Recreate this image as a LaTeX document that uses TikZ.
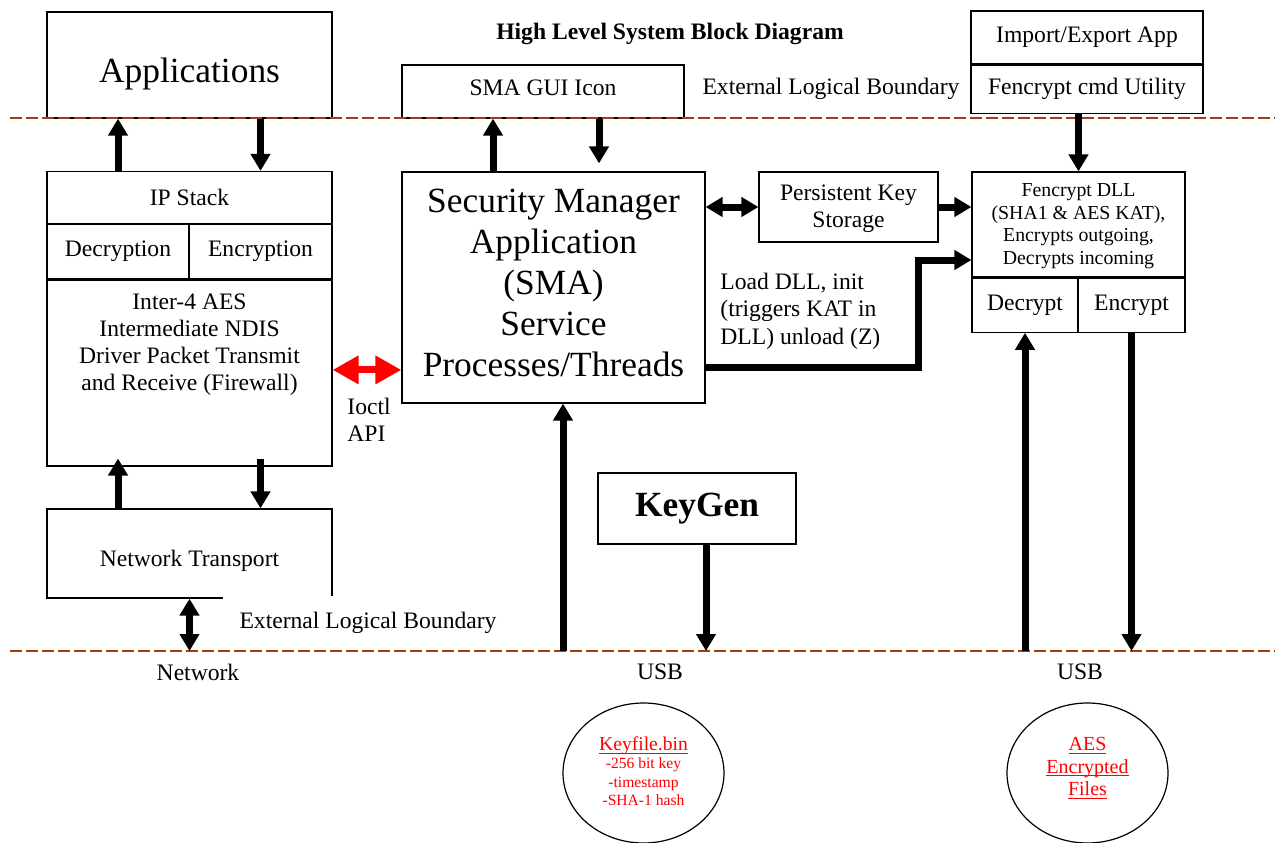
\documentclass[tikz,border=0pt]{standalone}
\usepackage{fontspec}
\setmainfont{Liberation Serif}
\usetikzlibrary{arrows.meta,shapes.geometric}
\definecolor{boundary}{RGB}{160,64,16}
\newcommand{\undertext}[1]{\setbox0\hbox{#1}\rlap{\rule[-1.6pt]{\wd0}{0.45pt}}\box0}

\begin{document}
\begin{tikzpicture}[x=0.5pt,y=-0.5pt,
        box/.style={draw, line width=0.6pt, inner sep=0pt, align=center, font=\fontsize{11.8}{13.6}\selectfont},
        txt/.style={inner sep=0pt, align=center, font=\fontsize{11.8}{13.6}\selectfont},
        big/.style={font=\fontsize{17.7}{20.5}\selectfont},
        flow/.style={line width=3.5pt, -{Triangle[width=9.5pt,length=8.5pt]}},
        twoway/.style={line width=3.5pt, {Triangle[width=9.5pt,length=8.5pt]}-{Triangle[width=9.5pt,length=8.5pt]}},
        redway/.style={red, line width=3.5pt, {Triangle[width=13.5pt,length=13pt]}-{Triangle[width=13.5pt,length=13pt]}},
        boundary line/.style={boundary, line width=1.1pt, dash pattern=on 6pt off 2pt},
        store/.style={draw, ellipse, line width=0.6pt, inner sep=0pt, minimum width=80.5pt, minimum height=70pt, align=center, text=red}]
    \useasboundingbox (0,0) rectangle (1275,842);

    \node[txt, font=\bfseries\fontsize{11.8}{13.6}\selectfont] (Title) at (670,34) {High Level System Block Diagram};

    \node[box, big, minimum width=142.5pt, minimum height=53pt, text height=21pt] (Applications) at (189.5,65) {Applications};
    \node[box, minimum width=141pt, minimum height=26.5pt, text depth=4pt] (SMA GUI) at (543,91.5) {SMA GUI Icon};
    \node[txt, fill=white] (Top Boundary) at (831,89) {External Logical Boundary};
    \node[box, minimum width=116pt, minimum height=26.5pt] (Import Export) at (1087,37.5) {Import/Export App};
    \node[box, minimum width=116pt, minimum height=24pt, anchor=north] (Fencrypt Cmd) at (Import Export.south) {Fencrypt cmd Utility};

    \node[box, minimum width=142.5pt, minimum height=26pt] (IP Stack) at (189.5,197.5) {IP Stack};
    \node[box, minimum width=71pt, minimum height=27pt, anchor=north west] (Decryption) at (IP Stack.south west) {Decryption};
    \node[box, minimum width=71.5pt, minimum height=27pt, anchor=north east] (Encryption) at (IP Stack.south east) {Encryption};
    \node[box, minimum width=142.5pt, minimum height=93pt, anchor=north west] (Inter4) at (Decryption.south west) {};
    \node[txt, font=\fontsize{11.8}{13.5}\selectfont] (Inter4 Text) at (189.5,344.5) {Inter-4 AES\\Intermediate NDIS\\Driver Packet Transmit\\and Receive (Firewall)};
    \node[box, minimum width=142.5pt, minimum height=44.5pt, text height=16pt] (Network Transport) at (189.5,553.5) {Network Transport};

    \node[box, big, minimum width=151.5pt, minimum height=115.5pt] (SMA) at (553.5,287.5) {};
    \node[txt, big] (SMA Text) at (553.5,282.5) {Security Manager\\Application\\(SMA)\\Service\\Processes/Threads};
    \node[box, minimum width=89.5pt, minimum height=35pt] (Persistent) at (848.5,207) {};
    \node[txt] (Persistent Text) at (848.5,209) {Persistent Key\\Storage};
    \node[box, minimum width=106.5pt, minimum height=52.5pt] (Fencrypt DLL) at (1078.5,224.5) {};
    \node[txt, font=\fontsize{9.9}{11.25}\selectfont] (Fencrypt DLL Text) at (1078.5,226) {Fencrypt DLL\\(SHA1 \& AES KAT),\\Encrypts outgoing,\\Decrypts incoming};
    \node[box, minimum width=53pt, minimum height=27pt, anchor=north west] (Decrypt) at (Fencrypt DLL.south west) {Decrypt};
    \node[box, minimum width=53.5pt, minimum height=27pt, anchor=north east] (Encrypt) at (Fencrypt DLL.south east) {Encrypt};
    \node[txt, align=left, anchor=west, font=\fontsize{11.8}{13.75}\selectfont] (Load Text) at (720,311) {Load DLL, init\\(triggers KAT in\\DLL) unload (Z)};
    \node[txt, align=left, anchor=west] (Ioctl) at (347,419.5) {Ioctl\\API};

    \node[box, minimum width=99pt, minimum height=35.5pt, font=\bfseries\fontsize{17.7}{20.5}\selectfont] (KeyGen) at (697,508.5) {KeyGen};

    \coordinate (Top Boundary West) at (10,118);
    \coordinate (Top Boundary East) at (1275,118);
    \coordinate (Low Boundary West) at (10,651);
    \coordinate (Low Boundary East) at (1275,651);
    \draw[boundary line] (Top Boundary West) -- (Top Boundary East);
    \draw[boundary line] (Low Boundary West) -- (Low Boundary East);

    \node[txt, fill=white, minimum width=145pt, minimum height=27pt] (Low Boundary) at (368,622.5) {External Logical Boundary};
    \node[txt] (Network) at (198,672) {Network};
    \node[txt] (USB Key) at (660,672) {USB};
    \node[txt] (USB Files) at (1080,672) {USB};

    \node[store] (Keyfile) at (643.5,773) {};
    \node[txt, text=red, font=\fontsize{7.8}{9.2}\selectfont] (Keyfile Text) at (643.5,771) {{\fontsize{9.8}{10.5}\selectfont\undertext{Keyfile.bin}}\\-256 bit key\\-timestamp\\-SHA-1 hash};
    \node[store] (AES Files) at (1087.5,773) {};
    \node[txt, text=red, font=\fontsize{10}{11.25}\selectfont] (AES Files Text) at (1087.5,768) {\undertext{AES}\\\undertext{Encrypted}\\\undertext{Files}};

    \draw[flow] (IP Stack.north -| Decryption) -- (Applications.south -| Decryption);
    \draw[flow] (Applications.south -| Encryption) -- (IP Stack.north -| Encryption);
    \draw[flow] (Network Transport.north -| Decryption) -- ([yshift=4pt]Inter4.south -| Decryption);
    \draw[flow] ([yshift=4pt]Inter4.south -| Encryption) -- (Network Transport.north -| Encryption);
    \draw[twoway] (Network Transport.south) -- (Network Transport.south |- Low Boundary West);

    \draw[flow] ([xshift=-30.25pt]SMA.north) -- ([xshift=-30.25pt]SMA.north |- SMA GUI.south);
    \draw[flow, shorten >=4pt] ([xshift=28pt]SMA GUI.south) -- ([xshift=28pt]SMA GUI.south |- SMA.north);
    \draw[twoway] (SMA.east |- Persistent) -- (Persistent.west);
    \draw[flow] (Persistent.east) -- (Persistent.east -| Fencrypt DLL.west);
    \draw[flow] ([yshift=-39.75pt]SMA.east) -- ++(213,0) |- ([yshift=-17.75pt]Fencrypt DLL.west);
    \draw[flow] (Fencrypt DLL.north |- Fencrypt Cmd.south) -- (Fencrypt DLL.north);
    \draw[redway] ([yshift=1.5pt]Inter4.east) -- ([yshift=1.5pt]Inter4.east -| SMA.west);

    \draw[flow] ([xshift=4.75pt]SMA.south |- Low Boundary West) -- ([xshift=4.75pt]SMA.south);
    \draw[flow] ([xshift=4.5pt]KeyGen.south) -- ([xshift=4.5pt]KeyGen.south |- Low Boundary West);
    \draw[flow] (Decrypt.south |- Low Boundary West) -- (Decrypt.south);
    \draw[flow] (Encrypt.south) -- (Encrypt.south |- Low Boundary West);
\end{tikzpicture}
\end{document}
